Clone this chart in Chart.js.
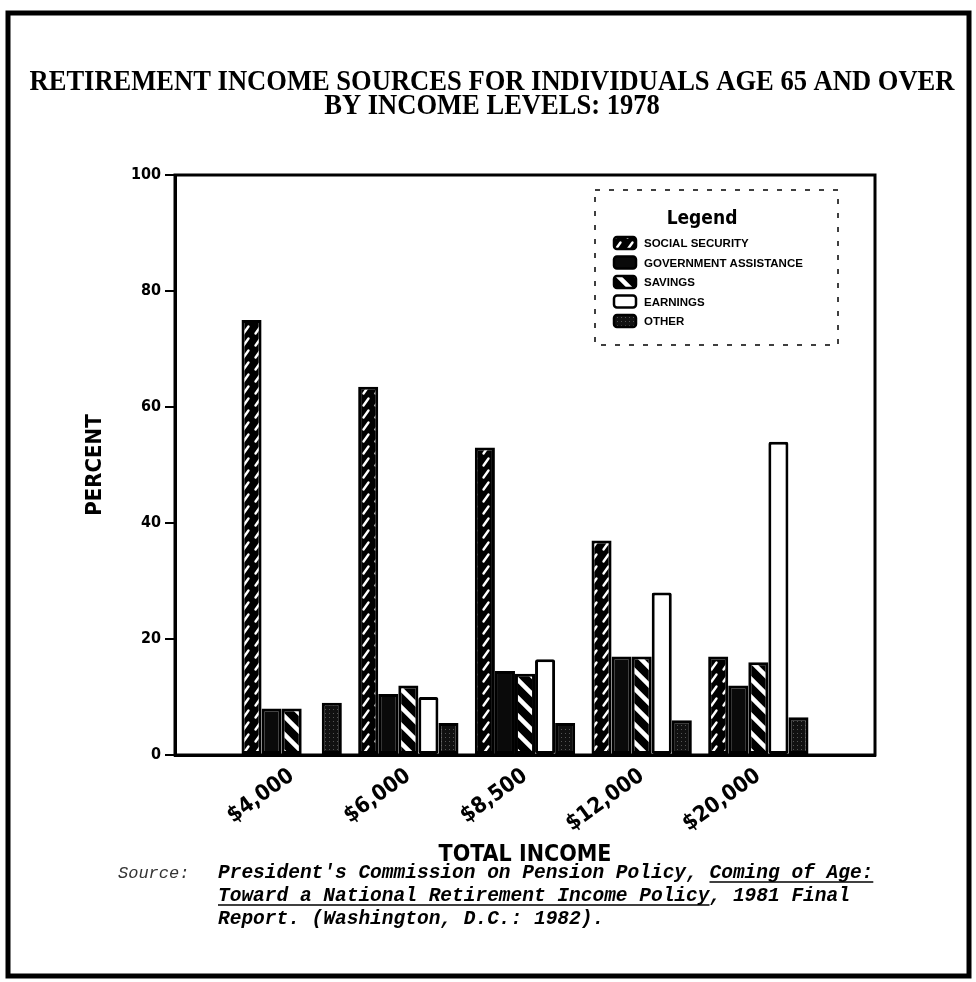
<!DOCTYPE html>
<html>
<head>
    <title>Retirement Income Sources</title>
    <script src="https://cdn.jsdelivr.net/npm/chart.js"></script>
    <style>
        body { margin: 0; background: #fff; }
        #wrap { width: 976px; height: 982px; position: relative; }
    </style>
</head>
<body>

<div id="wrap"><canvas id="myChart"></canvas></div>

<script>
    // values (percent of income)
    const categories = ['$4,000', '$6,000', '$8,500', '$12,000', '$20,000'];
    const seriesNames = ['SOCIAL SECURITY', 'GOVERNMENT ASSISTANCE', 'SAVINGS', 'EARNINGS', 'OTHER'];
    const socialSecurity = [75, 63.5, 53, 37, 17];
    const govAssistance = [8, 10.5, 14.5, 17, 12];
    const savings = [8, 12, 14, 17, 16];
    const earnings = [null, 10, 16.5, 28, 54];
    const other = [9, 5.5, 5.5, 6, 6.5];
    const yTicks = [0, 20, 40, 60, 80, 100];

    const titleLines = ['RETIREMENT INCOME SOURCES FOR INDIVIDUALS AGE 65 AND OVER', 'BY INCOME LEVELS: 1978'];
    const sourceLines = [
        "President's Commission on Pension Policy, Coming of Age:",
        'Toward a National Retirement Income Policy, 1981 Final',
        'Report. (Washington, D.C.: 1982).'
    ];

    const boldSans = "'Liberation Sans Narrow', 'DejaVu Sans Condensed', 'Liberation Sans', sans-serif";

    // hatch patterns like the old plotter fills
    function makePattern(size, draw) {
        const c = document.createElement('canvas');
        c.width = size; c.height = size;
        const p = c.getContext('2d');
        draw(p, size);
        return p.createPattern(c, 'repeat');
    }
    const ssFill = makePattern(12, (p, s) => {
        p.fillStyle = '#000'; p.fillRect(0, 0, s, s);
        p.strokeStyle = '#fff'; p.lineWidth = 2.4; p.lineCap = 'round';
        p.beginPath(); p.moveTo(3.5, 9.5); p.lineTo(8.5, 2.5); p.stroke();
    });
    const savFill = makePattern(18, (p, s) => {
        p.fillStyle = '#000'; p.fillRect(0, 0, s, s);
        p.strokeStyle = '#fff'; p.lineWidth = 4.5;
        p.beginPath();
        p.moveTo(-2, -2); p.lineTo(s + 2, s + 2);
        p.moveTo(-2, s - 2); p.lineTo(2, s + 2);
        p.moveTo(s - 2, -2); p.lineTo(s + 2, 2);
        p.stroke();
    });
    const otherFill = makePattern(4, (p, s) => {
        p.fillStyle = '#111'; p.fillRect(0, 0, s, s);
        p.fillStyle = '#555'; p.fillRect(1, 1, 1, 1);
    });

    // blank slot on each side so the groups sit where the original puts them
    const pad = arr => [null, ...arr, null];
    const labels = ['', ...categories, ''];

    const common = { borderColor: '#000', borderWidth: 3, borderSkipped: false,
                     categoryPercentage: 0.86, barPercentage: 1.0 };

    const data = {
        labels: labels,
        datasets: [
            Object.assign({ label: seriesNames[0], data: pad(socialSecurity), backgroundColor: ssFill }, common),
            Object.assign({ label: seriesNames[1], data: pad(govAssistance), backgroundColor: '#0a0a0a' }, common),
            Object.assign({ label: seriesNames[2], data: pad(savings), backgroundColor: savFill }, common),
            Object.assign({ label: seriesNames[3], data: pad(earnings), backgroundColor: '#fff', borderRadius: 2 }, common),
            Object.assign({ label: seriesNames[4], data: pad(other), backgroundColor: otherFill }, common)
        ]
    };

    // page frame, title, plot box, legend, source note
    const decor = {
        id: 'decor',
        beforeDraw(chart) {
            const ctx = chart.ctx;
            ctx.save();
            ctx.fillStyle = '#fff';
            ctx.fillRect(0, 0, chart.width, chart.height);
            ctx.restore();
        },
        afterDraw(chart) {
            const ctx = chart.ctx;
            const a = chart.chartArea;
            ctx.save();

            // outer frame
            ctx.strokeStyle = '#000';
            ctx.lineWidth = 5;
            ctx.strokeRect(8, 13, 961, 963);

            // plot box
            ctx.lineWidth = 3;
            ctx.strokeRect(a.left, a.top, a.right - a.left, a.bottom - a.top);

            // title, condensed serif
            ctx.fillStyle = '#000';
            ctx.font = 'bold 29px "Liberation Serif", serif';
            ctx.textAlign = 'center';
            ctx.textBaseline = 'alphabetic';
            const sx = 925 / ctx.measureText(titleLines[0]).width;
            [[titleLines[0], 90], [titleLines[1], 114]].forEach(([t, y]) => {
                ctx.save();
                ctx.translate(492, y);
                ctx.scale(sx, 1);
                ctx.fillText(t, 0, 0);
                ctx.restore();
            });

            // legend box
            const lx = 595, ly = 190, lw = 243, lh = 155;
            ctx.setLineDash([5, 9]);
            ctx.lineWidth = 1.5;
            ctx.strokeRect(lx, ly, lw, lh);
            ctx.setLineDash([]);
            ctx.font = 'bold 19px ' + boldSans;
            ctx.textAlign = 'center';
            ctx.fillText('Legend', 702, 224);
            ctx.textAlign = 'left';
            ctx.textBaseline = 'middle';
            ctx.font = 'bold 11.5px "Liberation Sans", sans-serif';
            chart.data.datasets.forEach((ds, i) => {
                const y = 243 + i * 19.5;
                ctx.beginPath();
                ctx.roundRect(614, y - 6, 22, 12, 3);
                ctx.fillStyle = ds.backgroundColor;
                ctx.fill();
                ctx.lineWidth = 2.5;
                ctx.strokeStyle = '#000';
                ctx.stroke();
                ctx.fillStyle = '#000';
                ctx.fillText(ds.label, 644, y + 1);
            });

            // source note
            ctx.textBaseline = 'alphabetic';
            ctx.font = 'italic 17px "Liberation Mono", monospace';
            ctx.fillStyle = '#333';
            ctx.fillText('Source:', 118, 878);
            ctx.fillStyle = '#000';
            ctx.font = 'italic bold 19.5px "Liberation Mono", monospace';
            const sy = [878, 901, 924];
            sourceLines.forEach((t, i) => ctx.fillText(t, 218, sy[i]));
            ctx.lineWidth = 1.5;
            const underline = (line, part, y) => {
                const start = sourceLines[line].indexOf(part);
                const x0 = 218 + ctx.measureText(sourceLines[line].slice(0, start)).width;
                const w = ctx.measureText(part).width;
                ctx.beginPath();
                ctx.moveTo(x0, y + 4); ctx.lineTo(x0 + w, y + 4);
                ctx.stroke();
            };
            underline(0, 'Coming of Age:', sy[0]);
            underline(1, 'Toward a National Retirement Income Policy', sy[1]);

            ctx.restore();
        }
    };

    const config = {
        type: 'bar',
        data: data,
        options: {
            responsive: true,
            maintainAspectRatio: false,
            animation: false,
            layout: { padding: { left: 82, right: 101, top: 175, bottom: 107 } },
            scales: {
                x: {
                    offset: false,
                    afterFit: function(scale) { scale.height = 120; },
                    grid: { display: false },
                    border: { display: true, color: '#000', width: 3 },
                    ticks: {
                        autoSkip: false,
                        maxRotation: 36,
                        minRotation: 36,
                        padding: 0,
                        color: '#000',
                        font: { family: boldSans, size: 22, weight: 'bold' }
                    },
                    title: {
                        display: true,
                        text: 'TOTAL INCOME',
                        color: '#000',
                        padding: { top: 0, bottom: 6 },
                        font: { family: boldSans, size: 23, weight: 'bold' }
                    }
                },
                y: {
                    min: 0,
                    max: 100,
                    afterFit: function(scale) { scale.width = 93; },
                    afterBuildTicks: function(scale) {
                        scale.ticks = yTicks.map(v => ({ value: v }));
                    },
                    grid: {
                        drawOnChartArea: false,
                        drawTicks: true,
                        tickLength: 10,
                        color: '#000',
                        lineWidth: 2
                    },
                    border: { display: true, color: '#000', width: 3 },
                    ticks: {
                        padding: 4,
                        color: '#000',
                        font: { family: boldSans, size: 16, weight: 'bold' }
                    },
                    title: {
                        display: true,
                        text: 'PERCENT',
                        color: '#000',
                        padding: { top: 0, bottom: 0 },
                        font: { family: boldSans, size: 22, weight: 'bold' }
                    }
                }
            },
            plugins: {
                legend: { display: false },
                title: { display: false },
                tooltip: { enabled: false }
            }
        },
        plugins: [decor]
    };

    window.onload = function() {
        const ctx = document.getElementById('myChart').getContext('2d');
        new Chart(ctx, config);
    };
</script>

</body>
</html>
